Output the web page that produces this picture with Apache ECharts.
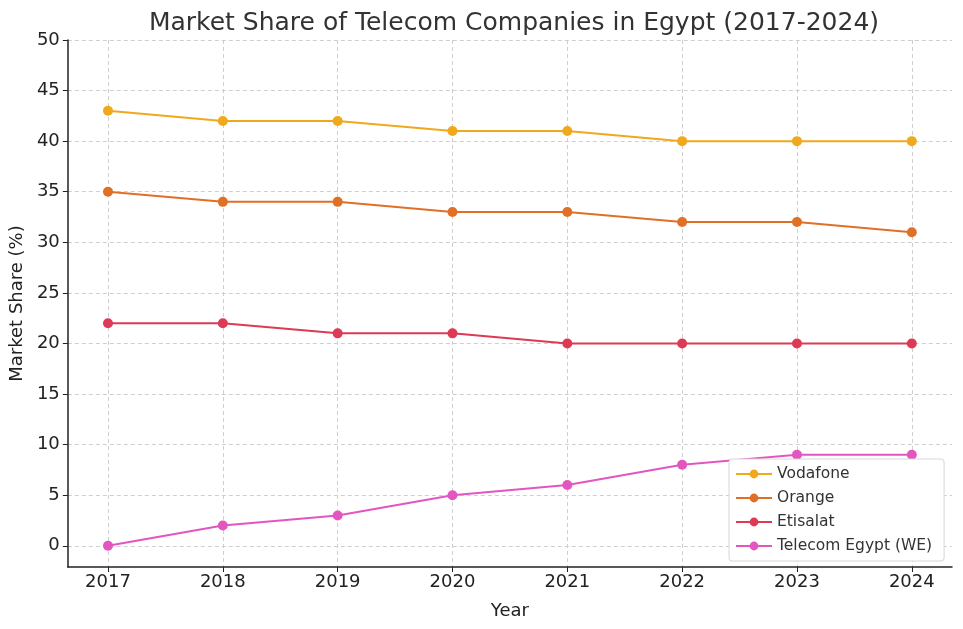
<!DOCTYPE html>
<html><head><meta charset="utf-8">
<script src="https://cdn.jsdelivr.net/npm/echarts@6/dist/echarts.min.js"></script>
<style>html,body{margin:0;padding:0;background:#fff}#c{width:963px;height:629px}</style>
</head><body><div id="c"></div>
<script>
const years = [2017, 2018, 2019, 2020, 2021, 2022, 2023, 2024];
const vodafone = [43, 42, 42, 41, 41, 40, 40, 40];
const orange = [35, 34, 34, 33, 33, 32, 32, 31];
const etisalat = [22, 22, 21, 21, 20, 20, 20, 20];
const telecomEgypt = [0, 2, 3, 5, 6, 8, 9, 9];
const yTicks = [0, 5, 10, 15, 20, 25, 30, 35, 40, 45, 50];
const seriesNames = ['Vodafone', 'Orange', 'Etisalat', 'Telecom Egypt (WE)'];
const colors = ['#F0A81C', '#E07026', '#DC3A55', '#E356C0'];
const seriesData = [vodafone, orange, etisalat, telecomEgypt];

const font = 'DejaVu Sans';
const chart = echarts.init(document.getElementById('c'), null, {renderer: 'canvas'});
chart.setOption({
  animation: false,
  backgroundColor: '#fff',
  textStyle: {fontFamily: font},
  title: {
    text: 'Market Share of Telecom Companies in Egypt (2017-2024)',
    left: 509, top: 6, textAlign: 'center',
    textStyle: {fontFamily: font, fontSize: 25, fontWeight: 'normal', color: '#333'}
  },
  grid: {left: 67, right: 11, top: 40, bottom: 62},
  legend: {
    orient: 'vertical', left: 729, top: 459,
    data: seriesNames,
    itemWidth: 36, itemHeight: 11, itemGap: 8,
    padding: [7, 12, 7, 6],
    backgroundColor: '#fff', borderColor: '#d6d6d6', borderWidth: 1, borderRadius: 3,
    textStyle: {fontFamily: font, fontSize: 15.5, color: '#333'}
  },
  xAxis: {
    type: 'value', min: 2016.65, max: 2024.35,
    name: 'Year', nameLocation: 'middle', nameGap: 35,
    nameTextStyle: {fontFamily: font, fontSize: 18, color: '#222'},
    axisLine: {show: true, onZero: false, lineStyle: {color: '#222', width: 1.5}},
    axisTick: {show: true, customValues: years, length: 5, lineStyle: {color: '#222'}},
    axisLabel: {customValues: years, fontFamily: font, fontSize: 18, color: '#222', margin: 6, formatter: v => String(v)},
    splitLine: {show: true, customValues: years, lineStyle: {type: [4, 3], color: '#cfcfcf'}}
  },
  yAxis: {
    type: 'value', min: -2.1, max: 50,
    name: 'Market Share (%)', nameLocation: 'middle', nameGap: 36,
    nameTextStyle: {fontFamily: font, fontSize: 18, color: '#222'},
    axisLine: {show: true, onZero: false, lineStyle: {color: '#222', width: 1.5}},
    axisTick: {show: true, customValues: yTicks, length: 5, lineStyle: {color: '#222'}},
    axisLabel: {customValues: yTicks, fontFamily: font, fontSize: 18, color: '#222', margin: 8},
    splitLine: {show: true, customValues: yTicks, lineStyle: {type: [4, 3], color: '#cfcfcf'}}
  },
  series: seriesNames.map((n, i) => ({
    name: n, type: 'line',
    data: years.map((y, j) => [y, seriesData[i][j]]),
    color: colors[i],
    symbol: 'circle', symbolSize: 10,
    lineStyle: {width: 2},
    itemStyle: {color: colors[i]}
  }))
});
</script></body></html>
